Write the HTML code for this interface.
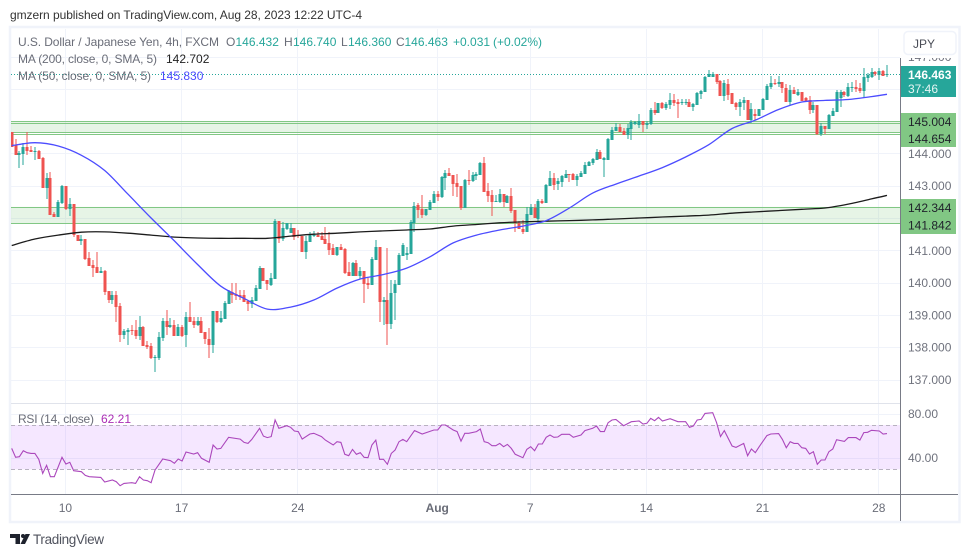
<!DOCTYPE html>
<html lang="en">
<head>
<meta charset="utf-8">
<title>USD/JPY 4h chart</title>
<style>
html,body{margin:0;padding:0;background:#fff;}
#root{position:relative;width:970px;height:557px;overflow:hidden;background:#fff;font-family:"Liberation Sans",sans-serif;}
svg{position:absolute;left:0;top:0;}
text{font-family:"Liberation Sans",sans-serif;}
</style>
</head>
<body>
<div id="root">
<svg id="chart" width="970" height="557" viewBox="0 0 970 557">
  <defs>
    <clipPath id="plotClip"><rect x="11" y="29" width="889" height="374"/></clipPath>
    <clipPath id="scaleClip"><rect x="900" y="58" width="57" height="345"/></clipPath>
    <clipPath id="rsiClip"><rect x="11" y="404" width="889" height="90"/></clipPath>
  </defs>
  <text x="10" y="19" font-size="12" fill="#333" textLength="352" lengthAdjust="spacing">gmzern published on TradingView.com, Aug 28, 2023 12:22 UTC-4</text>
  <rect x="10" y="27" width="949.5" height="495" fill="#fff" stroke="#f0f3fa" stroke-width="2.5"/>
  <g id="grid"></g>
  <g id="zones"></g>
  <g id="rsiPane" clip-path="url(#rsiClip)"></g>
  <line x1="11" x2="900" y1="403.5" y2="403.5" stroke="#e0e3eb"/>
  <g id="priceLine"></g>
  <g id="candles" clip-path="url(#plotClip)"></g>
  <g id="mas" clip-path="url(#plotClip)"></g>
  <line x1="900.5" x2="900.5" y1="58" y2="521" stroke="#787b86"/>
  <line x1="11" x2="958" y1="494.5" y2="494.5" stroke="#787b86"/>
  <g id="priceTicks" clip-path="url(#scaleClip)"></g>
  <g id="zoneLabels"></g>
  <g>
    <rect x="901" y="66" width="55" height="31" fill="#26a69a"/>
    <text x="908" y="79" font-size="12" font-weight="bold" fill="#fff">146.463</text>
    <text x="908" y="93" font-size="12" fill="#e6f5f3">37:46</text>
  </g>
  <g id="rsiTicks"></g>
  <g id="timeTicks"></g>

  <g>
    <rect x="904" y="31.5" width="52" height="23" rx="4" fill="#fff" stroke="#f0f3fa" stroke-width="1.5"/>
    <text x="913" y="48" font-size="12" fill="#4a4d57">JPY</text>
  </g>

  <g font-size="12">
    <text x="18" y="46" fill="#6a6d78" textLength="201" lengthAdjust="spacing">U.S. Dollar / Japanese Yen, 4h, FXCM</text>
    <text x="226" y="46" fill="#6a6d78">O</text>
    <text x="235.5" y="46" fill="#26a69a">146.432</text>
    <text x="284" y="46" fill="#6a6d78">H</text>
    <text x="293" y="46" fill="#26a69a">146.740</text>
    <text x="341" y="46" fill="#6a6d78">L</text>
    <text x="348" y="46" fill="#26a69a">146.360</text>
    <text x="396" y="46" fill="#6a6d78">C</text>
    <text x="404.5" y="46" fill="#26a69a">146.463</text>
    <text x="453" y="46" fill="#26a69a">+0.031</text>
    <text x="493" y="46" fill="#26a69a">(+0.02%)</text>
    <text x="18" y="63" fill="#6a6d78" textLength="139" lengthAdjust="spacing">MA (200, close, 0, SMA, 5)</text>
    <text x="166" y="63" fill="#222">142.702</text>
    <text x="18" y="80" fill="#6a6d78" textLength="133" lengthAdjust="spacing">MA (50, close, 0, SMA, 5)</text>
    <text x="160" y="80" fill="#4c4cff">145.830</text>
    <text x="18" y="423" fill="#6a6d78" textLength="76" lengthAdjust="spacing">RSI (14, close)</text>
    <text x="101" y="423" fill="#ab2eb5">62.21</text>
  </g>

  <g>
    <path d="M10 534h10v10h-4.5v-6h-5.5z M23 534a2 2 0 1 1 0 4a2 2 0 1 1 0-4z M25.5 534h4.5l-5 10h-4.5z" fill="#1e222d"/>
    <text x="33" y="544" font-size="13.5" fill="#50535e" textLength="71" lengthAdjust="spacing">TradingView</text>
  </g>
</svg>
</div>
<script>
// ---------- Candle data (USD/JPY 4h) ----------
const opens = [144.66,144.25,143.95,143.98,144.21,144.10,144.05,144.08,143.85,142.93,
143.25,142.11,142.04,142.46,142.99,142.29,142.43,141.47,141.30,141.34,
140.76,140.54,140.47,140.30,140.37,139.74,139.46,139.62,139.28,138.38,
138.47,138.53,138.53,138.35,138.64,138.07,138.04,137.66,137.67,138.28,
138.82,138.63,138.69,138.35,138.62,138.38,138.93,138.81,138.69,138.81,
138.48,138.25,138.08,139.12,138.77,138.87,139.34,139.72,139.64,139.62,
139.62,139.44,139.34,139.43,139.80,140.44,140.08,139.93,140.10,141.92,
141.34,141.66,141.54,141.69,141.47,141.45,140.95,141.26,141.44,141.47,
141.44,141.35,141.22,141.06,140.86,141.10,141.04,140.32,140.20,140.61,
140.20,140.36,139.98,139.93,140.70,141.10,139.41,139.46,138.72,139.67,
139.93,140.83,140.85,140.88,141.85,142.40,142.28,142.08,142.24,142.46,
142.74,142.64,143.25,143.38,143.33,143.07,142.99,142.32,143.17,143.14,
143.31,143.33,143.71,142.84,142.71,142.50,142.50,142.74,142.46,142.69,
142.26,141.85,141.67,141.58,142.08,142.32,141.96,142.54,142.46,142.99,
143.24,143.05,143.10,143.25,143.37,143.37,143.18,143.28,143.36,143.61,
143.69,143.80,144.05,143.80,143.79,144.41,144.69,144.83,144.69,144.57,
144.76,144.90,144.88,145.00,144.88,144.91,145.34,145.26,145.56,145.40,
145.50,145.65,145.60,145.55,145.55,145.60,145.45,145.50,145.85,145.91,
146.37,146.37,146.45,146.24,145.78,146.15,145.86,145.57,145.45,145.57,
145.65,145.03,145.21,145.16,145.34,145.65,146.05,146.19,146.15,146.22,
146.03,145.60,145.96,145.81,145.91,145.71,145.65,145.34,145.50,144.60,
144.86,144.76,145.16,145.29,145.72,145.91,145.79,146.04,146.06,146.03,
145.93,146.34,146.37,146.53,146.43,146.56,146.432];

const highs = [144.66,144.44,144.08,144.33,144.66,144.23,144.21,144.10,143.88,143.39,
143.41,142.19,142.56,143.02,143.00,142.62,142.43,141.47,141.47,141.35,
140.95,140.70,140.95,140.48,140.40,139.74,139.75,139.75,139.37,138.56,
138.59,138.69,138.84,138.97,138.66,138.20,138.12,137.76,138.48,138.90,
139.15,138.90,138.84,138.72,138.69,139.09,139.40,138.94,138.93,138.93,
138.48,138.59,139.12,139.12,139.12,139.43,139.77,139.98,139.98,139.77,
139.77,139.44,139.55,139.92,140.51,140.44,140.08,140.29,141.96,141.92,
141.88,141.84,141.83,141.69,141.63,141.45,141.44,141.57,141.60,141.57,
141.58,141.73,141.58,141.21,141.09,141.19,141.07,140.64,140.64,140.70,
140.49,140.36,140.14,140.80,141.32,141.10,139.56,141.06,140.08,140.08,
140.92,141.22,141.11,141.94,142.49,142.45,142.71,142.28,142.56,142.83,
142.83,143.30,143.49,143.56,143.33,143.35,142.99,143.20,143.49,143.43,
143.43,143.74,143.88,143.08,142.87,142.71,142.89,142.74,142.72,142.92,
142.26,141.91,141.94,142.33,142.43,142.43,142.59,142.59,143.05,143.46,
143.40,143.24,143.33,143.49,143.37,143.39,143.35,143.46,143.74,143.77,
143.86,144.13,144.10,143.88,144.48,144.81,144.93,144.91,144.80,144.91,
145.03,145.00,145.22,145.00,145.00,145.41,145.58,145.57,145.59,145.58,
145.86,145.84,145.67,145.67,145.68,145.67,145.57,145.89,145.97,146.39,
146.58,146.53,146.45,146.27,146.27,146.29,145.86,145.60,145.68,145.76,
145.65,145.56,145.38,145.39,145.72,146.14,146.40,146.30,146.40,146.22,
146.15,146.12,146.07,145.99,145.91,145.76,145.79,145.60,145.50,144.93,
144.86,145.22,145.40,145.96,145.96,145.94,146.17,146.22,146.27,146.17,
146.63,146.48,146.63,146.56,146.63,146.58,146.74];

const lows = [144.21,143.95,143.56,143.64,143.95,144.04,143.80,143.82,142.93,142.60,
142.10,142.04,142.03,142.43,142.25,142.06,141.42,141.29,141.16,140.70,
140.51,140.18,140.30,140.30,139.62,139.38,139.34,138.79,138.17,138.26,
138.07,138.38,138.25,138.22,138.04,137.94,137.63,137.24,137.60,138.19,
138.38,138.59,138.35,138.35,138.32,138.02,138.78,138.60,138.66,138.44,
138.10,137.67,137.83,138.75,138.75,138.87,139.34,139.38,139.46,139.46,
139.40,139.13,139.21,139.43,139.80,140.06,139.77,139.90,140.10,141.23,
141.30,141.63,141.54,141.32,141.38,140.95,140.73,141.26,141.41,141.40,
141.32,141.20,140.85,140.86,140.82,141.01,140.26,140.20,140.20,140.20,
140.11,139.38,139.81,139.93,140.70,138.79,138.69,138.07,138.56,138.84,
139.93,140.83,140.70,140.88,141.58,142.01,142.01,142.06,142.24,142.46,
142.54,142.62,142.87,143.30,142.68,142.66,142.25,142.32,143.02,143.11,
143.18,143.33,142.80,142.50,142.06,142.50,142.46,142.33,142.46,142.14,
141.57,141.67,141.50,141.58,142.08,141.99,141.85,142.43,142.46,142.99,
142.87,142.87,142.96,143.24,143.11,143.18,143.00,143.28,143.36,143.61,
143.64,143.80,143.82,143.28,143.79,144.41,144.69,144.65,144.58,144.44,
144.41,144.88,144.80,144.67,144.76,144.88,145.19,145.26,145.37,145.34,
145.37,145.48,145.11,145.50,145.50,145.45,145.31,145.50,145.68,145.91,
146.36,146.36,146.15,145.78,145.63,145.65,145.54,145.34,145.16,145.34,
145.03,144.95,145.03,145.16,145.34,145.65,145.98,146.12,146.06,145.86,
145.60,145.50,145.83,145.78,145.62,145.60,145.22,145.24,144.57,144.54,
144.60,144.76,145.16,145.29,145.45,145.76,145.76,145.91,145.91,145.86,
145.72,146.22,146.34,146.40,146.27,146.40,146.36];

const closes = [144.21,143.95,144.02,144.21,144.08,144.04,144.08,143.82,142.93,143.23,
142.10,142.04,142.50,142.99,142.27,142.43,141.47,141.29,141.35,140.73,
140.51,140.46,140.30,140.35,139.72,139.46,139.62,139.25,138.38,138.50,
138.53,138.50,138.35,138.64,138.04,138.02,137.66,137.71,138.32,138.82,
138.63,138.68,138.35,138.64,138.35,138.93,138.78,138.70,138.81,138.45,
138.24,138.08,139.12,138.77,138.90,139.38,139.75,139.62,139.59,139.56,
139.41,139.35,139.45,139.83,140.45,140.06,139.96,140.13,141.90,141.36,
141.69,141.83,141.69,141.40,141.44,140.95,141.28,141.48,141.47,141.40,
141.32,141.20,141.01,140.86,141.09,141.01,140.29,140.20,140.61,140.20,
140.36,139.96,139.93,140.72,141.10,139.41,139.46,138.72,139.67,139.96,
140.85,141.16,140.91,141.87,142.38,142.25,142.08,142.28,142.49,142.74,
142.66,143.28,143.38,143.30,143.05,142.95,142.30,143.17,143.14,143.33,
143.36,143.71,142.80,142.69,142.50,142.52,142.74,142.49,142.69,142.22,
141.84,141.67,141.58,142.12,142.33,141.99,142.53,142.47,143.02,143.24,
143.02,143.14,143.30,143.36,143.35,143.18,143.30,143.40,143.64,143.74,
143.83,144.05,143.82,143.85,144.45,144.72,144.83,144.65,144.58,144.80,
144.96,144.96,145.00,144.88,144.95,145.34,145.24,145.56,145.40,145.53,
145.65,145.57,145.53,145.58,145.60,145.45,145.53,145.87,145.94,146.37,
146.45,146.45,146.22,145.78,146.19,145.81,145.54,145.45,145.59,145.65,
145.03,145.37,145.16,145.37,145.68,146.09,146.19,146.15,146.22,146.01,
145.60,145.96,145.83,145.91,145.62,145.60,145.34,145.50,144.59,144.86,
144.76,145.19,145.32,145.91,145.91,145.81,146.06,146.06,146.00,145.93,
146.37,146.43,146.53,146.45,146.55,146.40,146.463];

// Moving averages, read every 6 bars (last reading on the final bar)
const maBars = [0,6,12,18,24,30,36,42,48,54,60,66,72,78,84,90,96,102,108,114,120,126,132,138,144,150,156,162,168,174,180,186,192,198,204,210,216,222,226];
const ma50 = [144.24,144.33,144.23,143.94,143.47,142.74,142.00,141.29,140.56,139.89,139.51,139.18,139.24,139.46,139.83,140.11,140.25,140.45,140.80,141.23,141.47,141.63,141.75,141.92,142.31,142.77,143.05,143.30,143.56,143.89,144.27,144.77,145.03,145.36,145.59,145.64,145.67,145.76,145.83];
const ma200 = [141.15,141.35,141.47,141.56,141.57,141.53,141.47,141.41,141.38,141.37,141.37,141.37,141.44,141.50,141.53,141.57,141.60,141.63,141.66,141.75,141.80,141.85,141.88,141.90,141.92,141.94,141.97,142.00,142.03,142.06,142.09,142.15,142.19,142.23,142.27,142.31,142.43,142.59,142.70];

// RSI readings at the bar index they were read from
const rsiBars = [0,1,2,3,4,5,6,7,8,9,10,11,12,13,14,15,16,18,19,20,23,24,26,27,28,29,31,32,33,34,35,36,37,39,41,42,43,44,45,47,48,49,51,52,53,54,56,59,60,61,62,64,65,66,67,68,69,71,72,73,74,75,77,78,80,81,83,84,85,86,87,88,89,90,91,92,93,94,95,96,97,98,99,100,101,102,104,106,109,110,111,112,114,115,116,117,118,120,121,122,123,124,125,126,127,128,129,130,132,133,134,135,136,137,138,139,140,141,142,144,145,147,148,150,151,152,153,154,155,156,158,160,162,163,164,165,166,167,168,170,172,174,175,176,177,178,179,181,182,183,184,186,187,189,190,191,192,193,195,196,198,199,200,201,202,203,204,205,206,207,208,209,210,211,212,213,215,216,218,219,220,221,222,224,225,226];
const rsiValues = [48.9,40.8,41.4,46.8,45,44.4,44.4,39,26.3,33.6,23.3,23.3,32.3,40.8,34.8,36.3,28.7,27.8,24.5,23.3,22.7,18.5,20.3,18.8,15.2,17.3,17.9,17.3,23.3,20.3,19.7,17.9,29.3,39.3,37.8,35.4,39.3,37.5,45.6,43.8,45,39.9,36.3,51.9,48.3,48.9,58.9,57.3,54.3,53.4,57,67,60,58.6,59.5,74.5,67,69.4,67.9,64.6,64,57.3,61.9,62.5,59.5,56.4,51.9,54.9,54.3,43.5,42.3,48,43.5,45,40.8,40.5,51.9,56.4,39,39,34.5,44.4,47.4,54.9,57,54.9,64.9,61.9,65.5,65.5,70,70,65.5,64,55.5,62.5,62.5,64,66.4,54.9,54,51.3,51.3,53.4,50.4,52.5,48.9,43.5,40.5,48,50.4,46.8,52.8,52.8,58.9,61,58.9,59.2,61.6,61.6,58.9,61,64.9,67,69.1,64,64,72.1,74.5,75.1,69.4,73,73.6,70.9,71.5,76,73.9,76.9,73.6,75.7,73,73,67.9,69.1,74.5,75.1,80.5,81.1,72.1,59.5,64.9,51,49.8,53.4,42.3,48.3,45,50.4,60.4,61.9,62.2,57,49.5,54.9,53.4,53.4,49.5,48.9,43.8,45.9,34.5,38.4,38.4,45.9,48.3,56.7,55.2,58.6,58.6,56.4,63.1,63.4,65.2,64.6,61.9,62.21];

// Axis labels and levels
const priceTickValues = [147,144,143,141,140,139,138,137];
const priceGridValues = [147,146,145,144,143,142,141,140,139,138,137];
const rsiTickValues = [80,40];
const timeTickBars = [14,44,74,110,134,164,194,224];
const timeTickLabels = ['10','17','24','Aug','7','14','21','28'];
const lastPrice = 146.463;
const zoneUpper = [145.004,144.654];
const zoneLower = [142.344,141.842];
const rsiBandTop = 70;
const rsiBandBottom = 30;

// ---------- Axis functions ----------
const SVGNS = 'http://www.w3.org/2000/svg';
function xBar(i){ return 11.7 + i * 3.873; }
function yPrice(p){ return 153.4 + (144 - p) * 32.3; }
function yRsi(v){ return 425 + (70 - v) * 1.1075; }
function make(tag, parent, attrs){
  const el = document.createElementNS(SVGNS, tag);
  for (const k in attrs) el.setAttribute(k, attrs[k]);
  parent.appendChild(el);
  return el;
}
const gridG = document.getElementById('grid');
const zonesG = document.getElementById('zones');
const rsiG = document.getElementById('rsiPane');
const candlesG = document.getElementById('candles');
const masG = document.getElementById('mas');

// Grid
priceGridValues.forEach(function(p){
  const y = Math.round(yPrice(p)) + 0.5;
  const el = make('line', gridG, {x1:11, x2:900, y1:y, y2:y, stroke:'#f0f3fa'});
  
  
});
rsiTickValues.forEach(function(v){
  const y = Math.round(yRsi(v)) + 0.5;
  const el = make('line', gridG, {x1:11, x2:900, y1:y, y2:y, stroke:'#f0f3fa'});
  
  
});
timeTickBars.forEach(function(b){
  const x = Math.round(xBar(b)) - 0.5;
  const el = make('line', gridG, {x1:x, x2:x, y1:29, y2:494, stroke:'#f0f3fa'});
  
  
});

// Zones
[zoneUpper, zoneLower].forEach(function(z){
  const top = yPrice(z[0]), bottom = yPrice(z[1]);
  const box = make('rect', zonesG, {x:11, y:top, width:889, height:bottom-top, fill:'#81c784', 'fill-opacity':0.2});
  
  
  [top, bottom].forEach(function(y){
    const line = make('line', zonesG, {x1:11, x2:900, y1:Math.round(y)+0.5, y2:Math.round(y)+0.5, stroke:'#81c784'});
    
    
  });
});
// Second pair of edges on the upper zone (doubled drawing in the source)
[zoneUpper[0] - 0.05, zoneUpper[1] - 0.05].forEach(function(p){
  const y = Math.round(yPrice(p)) + 0.5;
  const line = make('line', zonesG, {x1:11, x2:900, y1:y, y2:y, stroke:'#81c784'});
  
  
});

// Zone labels, stacked so they do not overlap on the price scale
const zoneLabelG = document.getElementById('zoneLabels');
[[zoneUpper[0], 113, 17],[zoneUpper[1], 130, 17],[zoneLower[0], 199, 17],[zoneLower[1], 216, 18]].forEach(function(row){
  const rect = make('rect', zoneLabelG, {x:901, y:row[1], width:55, height:row[2], fill:'#81c784'});
  
  
  const t = make('text', zoneLabelG, {x:908, y:row[1] + row[2] / 2 + 4.5, 'font-size':12, fill:'#20232c'});
  t.textContent = row[0].toFixed(3);
  
  
});

// Last price dotted line
const priceLineG = document.getElementById('priceLine');
const lastY = Math.round(yPrice(lastPrice)) + 0.5;
const pl = make('line', priceLineG, {x1:11, x2:900, y1:lastY, y2:lastY, stroke:'#26a69a', 'stroke-dasharray':'1 2'});



// Candles
opens.forEach(function(o, i){
  const c = closes[i];
  const up = c >= o;
  const color = up ? '#26a69a' : '#ef5350';
  const xc = xBar(i);
  const wx = Math.round(xc);
  const wTop = Math.round(yPrice(highs[i]));
  const wBottom = Math.round(yPrice(lows[i]));
  const wick = make('rect', candlesG, {x:wx-0.5, y:wTop, width:1, height:Math.max(1, wBottom - wTop), fill:color});
  
  
  const top = Math.round(yPrice(Math.max(o, c)));
  const bottom = Math.round(yPrice(Math.min(o, c)));
  const body = make('rect', candlesG, {x:wx-1.5, y:top, width:3, height:Math.max(1, bottom - top), fill:color});
  
  
});

// Moving averages drawn as smooth curves through the readings
function linePoints(bars, vals, yFn){
  return bars.map(function(b, i){ return xBar(b).toFixed(1) + ',' + yFn(vals[i]).toFixed(1); }).join(' ');
}
function smoothPath(bars, vals, yFn){
  const pts = bars.map(function(b, i){ return [xBar(b), yFn(vals[i])]; });
  let d = 'M' + pts[0][0].toFixed(1) + ' ' + pts[0][1].toFixed(1);
  for (let i = 0; i < pts.length - 1; i++) {
    const p0 = pts[Math.max(0, i - 1)], p1 = pts[i], p2 = pts[i + 1], p3 = pts[Math.min(pts.length - 1, i + 2)];
    const c1x = p1[0] + (p2[0] - p0[0]) / 6, c1y = p1[1] + (p2[1] - p0[1]) / 6;
    const c2x = p2[0] - (p3[0] - p1[0]) / 6, c2y = p2[1] - (p3[1] - p1[1]) / 6;
    d += 'C' + c1x.toFixed(1) + ' ' + c1y.toFixed(1) + ' ' + c2x.toFixed(1) + ' ' + c2y.toFixed(1) + ' ' + p2[0].toFixed(1) + ' ' + p2[1].toFixed(1);
  }
  return d;
}
const l200 = make('path', masG, {d:smoothPath(maBars, ma200, yPrice), fill:'none', stroke:'#1c1c1c', 'stroke-width':1.3});


const l50 = make('path', masG, {d:smoothPath(maBars, ma50, yPrice), fill:'none', stroke:'#4c4cff', 'stroke-width':1.3});



// RSI pane
const band = make('rect', rsiG, {x:11, y:yRsi(rsiBandTop), width:889, height:yRsi(rsiBandBottom)-yRsi(rsiBandTop), fill:'#9915ff', 'fill-opacity':0.1});


[rsiBandTop, rsiBandBottom].forEach(function(v){
  const y = Math.round(yRsi(v)) + 0.5;
  const d = make('line', rsiG, {x1:11, x2:900, y1:y, y2:y, stroke:'#b8b2c0', 'stroke-dasharray':'4 3'});
  
  
});
const rsiLine = make('polyline', rsiG, {points:linePoints(rsiBars, rsiValues, yRsi), fill:'none', stroke:'#ab47bc', 'stroke-width':1.1});



// Price ticks
const priceTicksG = document.getElementById('priceTicks');
priceTickValues.forEach(function(p){
  const t = make('text', priceTicksG, {x:908, y:yPrice(p) + 4.5, 'font-size':12, fill:'#6f727d'});
  t.textContent = p.toFixed(3);
  
  
});
const rsiTicksG = document.getElementById('rsiTicks');
rsiTickValues.forEach(function(v){
  const t = make('text', rsiTicksG, {x:908, y:yRsi(v) + 4, 'font-size':12, fill:'#6f727d'});
  t.textContent = v.toFixed(2);
  
  
});

// Time ticks
const timeTicksG = document.getElementById('timeTicks');
timeTickBars.forEach(function(b, i){
  const bold = timeTickLabels[i] === 'Aug';
  const t = make('text', timeTicksG, {x:xBar(b) - 0.5, y:512, 'font-size':12, fill:'#6a6d78', 'text-anchor':'middle', 'font-weight': bold ? 'bold' : 'normal'});
  t.textContent = timeTickLabels[i];
  
  
});
</script>
</body>
</html>
